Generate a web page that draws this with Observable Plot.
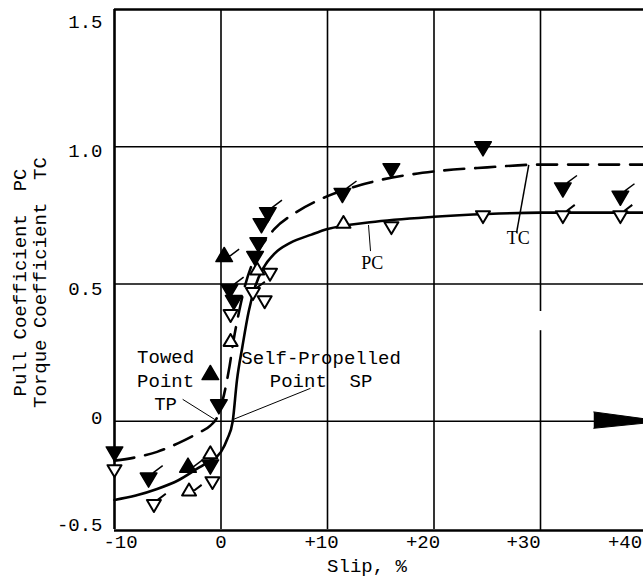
<!DOCTYPE html>
<html><head><meta charset="utf-8">
<script src="https://cdn.jsdelivr.net/npm/d3@7"></script>
<script src="https://cdn.jsdelivr.net/npm/@observablehq/plot@0.6"></script>
<style>
html,body{margin:0;padding:0;background:#fff;overflow:hidden}
</style></head><body><div id="chart"></div>
<script>
// ---- axes ----
const xTicks = [-10, 0, 10, 20, 30, 40];
const xTickLabels = ["-10", "0", "+10", "+20", "+30", "+40"];
const xLabelNudge = [6, 0, -6, -11, -17, -22];
const yTicks = [-0.5, 0, 0.5, 1.0, 1.5];
const yTickLabels = ["-0.5", "0", "0.5", "1.0", "1.5"];
const yLabelNudge = [-6, -3, 5, 4, 12];
// the printed grid is shorter below zero than above it
const belowZeroSquash = 109 / 137;

// ---- faired curves ----
const tcCurveSlip = [-10, -8, -6, -4, -2, -1, -0.3, 0.3, 0.8, 1.2, 1.7, 2.3, 3, 4, 5, 7, 10, 14, 20, 25, 30, 35, 40];
const tcCurveCoef = [-0.18, -0.165, -0.14, -0.10, -0.05, -0.02, 0.02, 0.10, 0.20, 0.30, 0.40, 0.50, 0.58, 0.65, 0.70, 0.76, 0.82, 0.87, 0.91, 0.925, 0.935, 0.935, 0.935];
const pcCurveSlip = [-10, -8, -6, -4, -2, -1, 0, 0.6, 1.1, 1.5, 2, 2.6, 3.2, 4, 5, 6.5, 8.5, 10, 14, 20, 25, 30, 35, 40];
const pcCurveCoef = [-0.36, -0.34, -0.31, -0.27, -0.21, -0.18, -0.14, -0.08, 0.0, 0.15, 0.27, 0.40, 0.49, 0.56, 0.61, 0.65, 0.68, 0.70, 0.725, 0.745, 0.755, 0.76, 0.76, 0.76];

// ---- test points: [slip %, coefficient, flagged] ----
const tcFilledDown = [
  [-10, -0.14, 0], [-6.8, -0.26, 1], [-1.0, -0.20, 0], [-0.2, 0.06, 0],
  [0.8, 0.48, 1], [1.2, 0.44, 0], [3.2, 0.60, 0], [3.5, 0.65, 0], [3.8, 0.72, 0], [4.4, 0.76, 1],
  [11.4, 0.83, 1], [16.0, 0.92, 0], [24.6, 1.00, 0], [32.1, 0.85, 1], [37.5, 0.82, 1]
];
const tcFilledUp = [
  [-3.1, -0.21, 1], [-1.0, 0.17, 0], [0.3, 0.60, 1]
];
const pcOpenDown = [
  [-10, -0.22, 0], [-6.3, -0.38, 1], [-0.8, -0.275, 0], [0.9, 0.39, 0],
  [3.0, 0.47, 1], [4.1, 0.44, 0], [4.6, 0.54, 0],
  [16.0, 0.71, 0], [24.6, 0.75, 0], [32.1, 0.75, 1], [37.5, 0.75, 1]
];
const pcOpenUp = [
  [-3.0, -0.32, 1], [-1.0, -0.15, 0], [0.9, 0.29, 0], [3.4, 0.55, 0], [11.5, 0.72, 0]
];

// ---- annotations ----
const noteTowed = "Towed\nPoint\nTP";
const noteSelf = "Self-Propelled\nPoint\u00a0\u00a0SP";
const noteTowedAt = [-5.2, 0.153];
const noteSelfAt = [9.4, 0.195];
const curveLabels = [{t: "PC", x: 14.2, y: 0.577}, {t: "TC", x: 27.9, y: 0.668}];
const leaders = [
  {x1: -3.6, y1: 0.08, x2: -0.6, y2: 0.007, w: 1},
  {x1: 1.17, y1: 0.007, x2: 8.4, y2: 0.12, w: 1},
  {x1: 13.85, y1: 0.715, x2: 14.04, y2: 0.62, w: 1},
  {x1: 28.9, y1: 0.934, x2: 27.75, y2: 0.686, w: 1.5}
];
const arrowHead = [[35, 0.034], [41.5, 0], [35, -0.032]];
const yTitle1 = "Pull Coefficient\u00a0\u00a0PC";
const yTitle2 = "Torque Coefficient\u00a0\u00a0TC";
const xTitle = "Slip,\u00a0%";

// ---- symbols ----
function tri(down, flag) {
  return {draw(c, size) {
    const r = Math.sqrt(size / Math.PI);
    if (down) {
      c.moveTo(-r, -0.6 * r); c.lineTo(r, -0.6 * r); c.lineTo(0, 1.1 * r); c.closePath();
      if (flag) { c.moveTo(0.5 * r, -0.6 * r); c.lineTo(1.7 * r, -1.5 * r); }
    } else {
      c.moveTo(-r, 0.6 * r); c.lineTo(r, 0.6 * r); c.lineTo(0, -1.1 * r); c.closePath();
      if (flag) { c.moveTo(0.6 * r, 0); c.lineTo(1.8 * r, -0.9 * r); }
    }
  }};
}

const mono = "Liberation Mono";
function pts(arr, down, filled) {
  const base = {x: d => d[0], y: d => d[1], r: filled ? 8.3 : 7,
    fill: filled ? "black" : "white", stroke: "black", strokeWidth: filled ? 1.5 : 2, strokeLinejoin: "round"};
  return [
    Plot.dot(arr.filter(d => !d[2]), {...base, symbol: tri(down, false)}),
    Plot.dot(arr.filter(d => d[2]), {...base, symbol: tri(down, true)})
  ];
}

const toXY = (xs, ys) => xs.map((x, i) => ({x, y: ys[i]}));

const chart = Plot.plot({
  width: 643, height: 581,
  marginLeft: 114, marginRight: 0, marginTop: 9, marginBottom: 52,
  style: {fontFamily: mono, fontSize: "19px", color: "black", background: "white"},
  x: {domain: [-10, 40], range: [114, 646.5], axis: null},
  y: {transform: v => v < 0 ? v * belowZeroSquash : v, domain: [-0.5 * belowZeroSquash, 1.5], range: [530, 9], axis: null},
  marks: [
    Plot.ruleX(xTicks.filter(d => d !== 30 && d !== -10), {stroke: "black", strokeWidth: 1.6}),
    Plot.ruleX([30], {y1: 1.5, y2: 0.40, stroke: "black", strokeWidth: 1.6}),
    Plot.ruleX([30], {y1: 0.33, y2: -0.5, stroke: "black", strokeWidth: 1.6}),
    Plot.ruleY(yTicks.filter(d => d !== -0.5 && d !== 1.5), {stroke: "black", strokeWidth: 1.6}),
    Plot.ruleX([-10], {stroke: "black", strokeWidth: 2.6}),
    Plot.ruleY([-0.5, 1.5], {stroke: "black", strokeWidth: 2.4}),
    ...yTicks.map((t, i) => Plot.text([yTickLabels[i]], {y: () => t, text: d => d, frameAnchor: "left", textAnchor: "end", lineAnchor: "middle", dx: -12, dy: yLabelNudge[i], fontSize: 19, fontFamily: mono})),
    ...xTicks.map((t, i) => Plot.text([xTickLabels[i]], {x: () => t, text: d => d, frameAnchor: "bottom", lineAnchor: "middle", dy: 12, dx: xLabelNudge[i], fontSize: 19, fontFamily: mono})),
    Plot.text([xTitle], {text: d => d, frameAnchor: "bottom", textAnchor: "middle", lineAnchor: "middle", dy: 36, dx: -12, fontSize: 19, fontFamily: mono}),
    Plot.text([yTitle1], {text: d => d, frameAnchor: "left", textAnchor: "middle", lineAnchor: "middle", rotate: -90, dx: -95, dy: 13, fontSize: 19, fontFamily: mono}),
    Plot.text([yTitle2], {text: d => d, frameAnchor: "left", textAnchor: "middle", lineAnchor: "middle", rotate: -90, dx: -75, dy: 13, fontSize: 19, fontFamily: mono}),
    Plot.line(toXY(pcCurveSlip, pcCurveCoef), {x: "x", y: "y", curve: "monotone-x", stroke: "black", strokeWidth: 2.6}),
    Plot.line(toXY(tcCurveSlip, tcCurveCoef), {x: "x", y: "y", curve: "monotone-x", stroke: "black", strokeWidth: 2.6, strokeDasharray: "20,11"}),
    Plot.line(arrowHead, {x: d => d[0], y: d => d[1], fill: "black", stroke: "black", strokeWidth: 1}),
    Plot.link(leaders, {x1: "x1", y1: "y1", x2: "x2", y2: "y2", stroke: "black", strokeWidth: d => d.w}),
    ...pts(pcOpenDown, true, false),
    ...pts(pcOpenUp, false, false),
    ...pts(tcFilledDown, true, true),
    ...pts(tcFilledUp, false, true),
    Plot.text([noteTowed], {x: () => noteTowedAt[0], y: () => noteTowedAt[1], text: d => d, lineHeight: 1.24, fontSize: 19, fontFamily: mono, fill: "black"}),
    Plot.text([noteSelf], {x: () => noteSelfAt[0], y: () => noteSelfAt[1], text: d => d, lineHeight: 1.24, fontSize: 19, fontFamily: mono, fill: "black"}),
    Plot.text(curveLabels, {x: "x", y: "y", text: "t", fontSize: 18, fontFamily: "Liberation Serif", fill: "black"})
  ]
});
document.getElementById("chart").appendChild(chart);
</script>
</body></html>
